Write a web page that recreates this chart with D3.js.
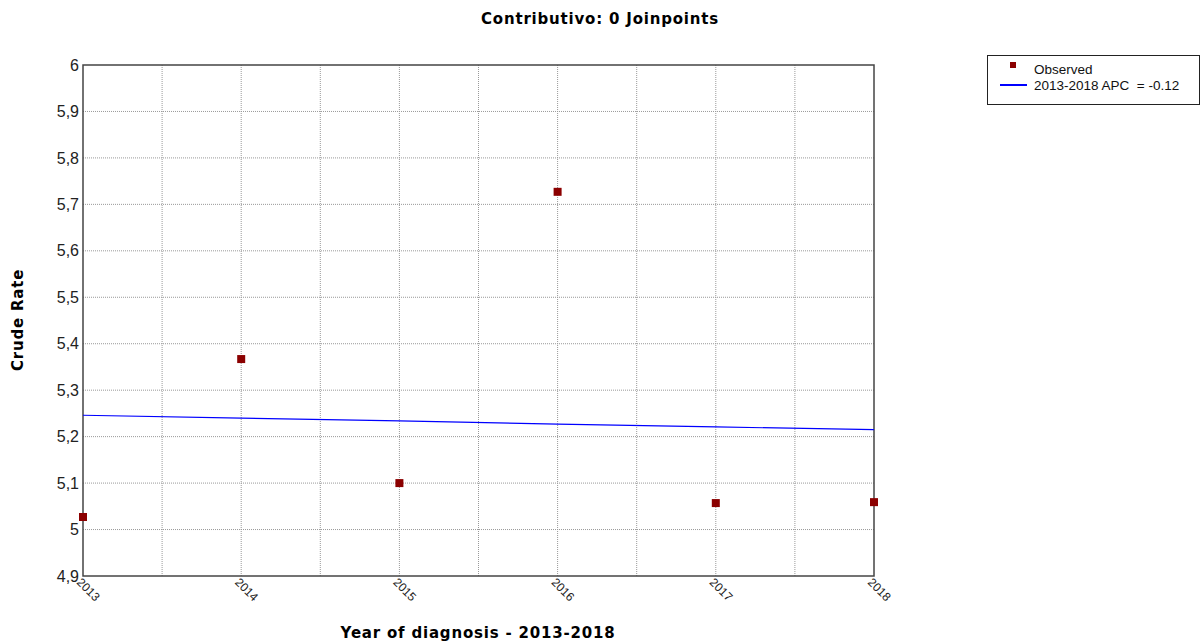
<!DOCTYPE html>
<html>
<head>
<meta charset="utf-8">
<script src="https://cdn.jsdelivr.net/npm/d3@7"></script>
<style>
  body { margin: 0; background: #fff; }
  svg { display: block; }
</style>
</head>
<body>
<svg id="chart"></svg>
<script>
// observed crude rates per year of diagnosis
const years = [2013, 2014, 2015, 2016, 2017, 2018];
const observed = [5.027, 5.367, 5.100, 5.727, 5.057, 5.059];
// fitted joinpoint line (APC = -0.12)
const fitted = [5.246, 5.240, 5.234, 5.227, 5.221, 5.215];
const yTicks = [4.9, 5, 5.1, 5.2, 5.3, 5.4, 5.5, 5.6, 5.7, 5.8, 5.9, 6];
const xGrid = [2013, 2013.5, 2014, 2014.5, 2015, 2015.5, 2016, 2016.5, 2017, 2017.5, 2018];

const width = 1203, height = 644;
const margin = {top: 65, right: 329, bottom: 68, left: 83};

const svg = d3.select("#chart")
    .attr("width", width)
    .attr("height", height);

const x = d3.scaleLinear([2013, 2018], [margin.left, width - margin.right]);
const y = d3.scaleLinear([4.9, 6], [height - margin.bottom, margin.top]);

const fmt = d => String(+d.toFixed(1)).replace(".", ",");

// grid lines
svg.append("g")
  .selectAll("line")
  .data(yTicks.slice(1, -1))
  .join("line")
    .attr("x1", margin.left).attr("x2", width - margin.right)
    .attr("y1", d => y(d)).attr("y2", d => y(d))
    .attr("stroke", "#999")
    .attr("stroke-dasharray", "1,1");

svg.append("g")
  .selectAll("line")
  .data(xGrid.slice(1, -1))
  .join("line")
    .attr("x1", d => x(d)).attr("x2", d => x(d))
    .attr("y1", margin.top).attr("y2", height - margin.bottom)
    .attr("stroke", "#999")
    .attr("stroke-dasharray", "1,1");

// frame
svg.append("rect")
    .attr("x", margin.left).attr("y", margin.top)
    .attr("width", width - margin.left - margin.right)
    .attr("height", height - margin.top - margin.bottom)
    .attr("fill", "none")
    .attr("stroke", "#444")
    .attr("stroke-width", 1.5);

// y axis labels
svg.append("g")
    .attr("font-family", "Liberation Sans, Arial, sans-serif")
    .attr("font-size", 16)
    .attr("fill", "#222")
  .selectAll("text")
  .data(yTicks)
  .join("text")
    .attr("x", margin.left - 4)
    .attr("y", d => y(d))
    .attr("dy", "0.35em")
    .attr("text-anchor", "end")
    .text(fmt);

// x axis labels, rotated
svg.append("g")
    .attr("font-family", "Liberation Sans, Arial, sans-serif")
    .attr("font-size", 12)
    .attr("fill", "#222")
  .selectAll("text")
  .data(years)
  .join("text")
    .attr("transform", d => `translate(${x(d) - 4},${height - margin.bottom + 4}) rotate(45)`)
    .attr("dy", "0.35em")
    .text(d => d);

// fitted line
svg.append("path")
    .datum(years.map((d, i) => [d, fitted[i]]))
    .attr("fill", "none")
    .attr("stroke", "#0000ff")
    .attr("stroke-width", 1.2)
    .attr("d", d3.line(d => x(d[0]), d => y(d[1])));

// observed points
svg.append("g")
    .attr("fill", "#8b0000")
  .selectAll("rect")
  .data(years)
  .join("rect")
    .attr("x", (d, i) => x(d) - 4)
    .attr("y", (d, i) => y(observed[i]) - 4)
    .attr("width", 8)
    .attr("height", 8);

// titles
const titleFont = g => g
    .attr("text-anchor", "middle")
    .attr("font-family", "DejaVu Sans, Verdana, sans-serif")
    .attr("font-weight", "bold")
    .attr("font-size", 15)
    .attr("letter-spacing", 0.8);

svg.append("text")
    .call(titleFont)
    .attr("x", 600).attr("y", 24)
    .text("Contributivo: 0 Joinpoints");

svg.append("text")
    .call(titleFont)
    .attr("x", 478).attr("y", 638)
    .text("Year of diagnosis - 2013-2018");

svg.append("text")
    .call(titleFont)
    .attr("transform", "translate(23,320) rotate(-90)")
    .text("Crude Rate");

// legend
const legend = svg.append("g")
    .attr("font-family", "Liberation Sans, Arial, sans-serif")
    .attr("font-size", 13.5)
    .attr("fill", "#111");

legend.append("rect")
    .attr("x", 987.5).attr("y", 55.5)
    .attr("width", 212).attr("height", 49)
    .attr("fill", "#fff")
    .attr("stroke", "#222");

legend.append("rect")
    .attr("x", 1010).attr("y", 62)
    .attr("width", 6).attr("height", 6)
    .attr("fill", "#8b0000");

legend.append("text")
    .attr("x", 1034).attr("y", 74)
    .text("Observed");

legend.append("line")
    .attr("x1", 1000).attr("x2", 1027)
    .attr("y1", 85).attr("y2", 85)
    .attr("stroke", "#0000ff")
    .attr("stroke-width", 2);

legend.append("text")
    .attr("x", 1034).attr("y", 90)
    .attr("xml:space", "preserve")
    .text("2013-2018 APC  = -0.12");
</script>
</body>
</html>
